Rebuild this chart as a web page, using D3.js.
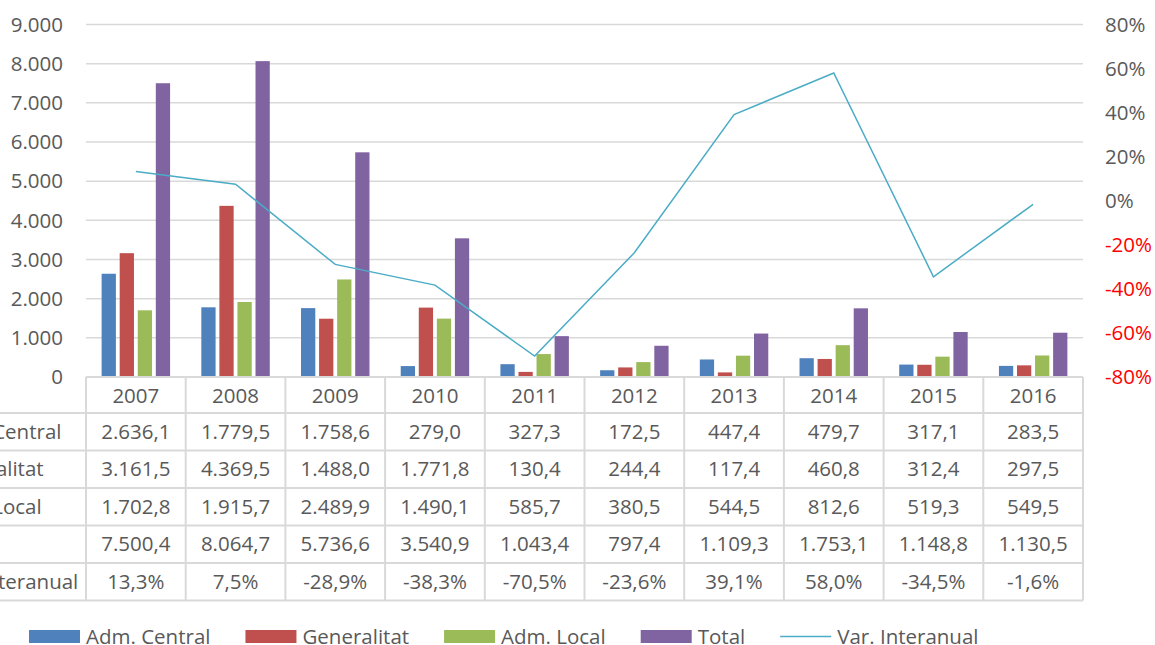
<!DOCTYPE html>
<html>

<head>
    <title>Inversión por administración</title>
    <meta charset="utf-8">
    <script src="https://cdn.jsdelivr.net/npm/d3@7/dist/d3.min.js"></script>
    <style>
        body { margin: 0; background: #fff; }
        text { font-family: "Open Sans", sans-serif; fill: #595959; }
    </style>
</head>

<body>
    <svg width="1155" height="645"></svg>
</body>
<script>
    // datos
    var years = ["2007", "2008", "2009", "2010", "2011", "2012", "2013", "2014", "2015", "2016"];
    var series = ["Adm. Central", "Generalitat", "Adm. Local", "Total"];
    var admCentral = [2636.1, 1779.5, 1758.6, 279.0, 327.3, 172.5, 447.4, 479.7, 317.1, 283.5];
    var generalitat = [3161.5, 4369.5, 1488.0, 1771.8, 130.4, 244.4, 117.4, 460.8, 312.4, 297.5];
    var admLocal = [1702.8, 1915.7, 2489.9, 1490.1, 585.7, 380.5, 544.5, 812.6, 519.3, 549.5];
    var total = [7500.4, 8064.7, 5736.6, 3540.9, 1043.4, 797.4, 1109.3, 1753.1, 1148.8, 1130.5];
    var varInteranual = [13.3, 7.5, -28.9, -38.3, -70.5, -23.6, 39.1, 58.0, -34.5, -1.6];
    var leftTicks = [0, 1000, 2000, 3000, 4000, 5000, 6000, 7000, 8000, 9000];
    var rightTicks = [-80, -60, -40, -20, 0, 20, 40, 60, 80];

    var values = [admCentral, generalitat, admLocal, total];
    var colors = ["#4f81bd", "#c0504d", "#9bbb59", "#8064a2"];
    var lineColor = "#4bacc6";
    var gridColor = "#d9d9d9";
    var fs = 20.5;

    var svg = d3.select("svg");
    var plotLeft = 86, plotRight = 1083, plotTop = 24.5, plotBottom = 377;

    var x0 = d3.scaleBand().domain(years).range([plotLeft, plotRight]);
    var x1 = d3.scaleBand().domain(series).range([0, x0.bandwidth()])
        .paddingInner(0.21).paddingOuter(0.865);
    var y = d3.scaleLinear().domain([0, 9000]).range([plotBottom, plotTop]);
    var y2 = d3.scaleLinear().domain([-80, 80]).range([plotBottom, plotTop]);

    var esLocale = d3.formatLocale({ decimal: ",", thousands: ".", grouping: [3], currency: ["", "€"], minus: "-" });
    var fmtAxis = esLocale.format(",.0f");
    var fmtVal = esLocale.format(",.1f");

    // grid
    svg.append("g").selectAll("line")
        .data(leftTicks.filter(function (d) { return d > 0; }))
        .enter().append("line")
        .attr("x1", plotLeft).attr("x2", plotRight)
        .attr("y1", function (d) { return y(d); }).attr("y2", function (d) { return y(d); })
        .attr("stroke", gridColor).attr("stroke-width", 1.5);

    // eje izquierdo
    svg.append("g").selectAll("text")
        .data(leftTicks)
        .enter().append("text")
        .attr("x", 63).attr("y", function (d) { return y(d); })
        .attr("dy", "0.35em")
        .attr("text-anchor", "end")
        .attr("font-size", fs)
        .text(function (d) { return fmtAxis(d); });

    // eje derecho
    svg.append("g").selectAll("text")
        .data(rightTicks)
        .enter().append("text")
        .attr("x", 1105).attr("y", function (d) { return y2(d); })
        .attr("dy", "0.35em")
        .attr("font-size", fs)
        .style("fill", function (d) { return d < 0 ? "#ff0000" : "#595959"; })
        .text(function (d) { return d + "%"; });

    // barras
    var groups = svg.append("g").selectAll("g")
        .data(years)
        .enter().append("g")
        .attr("transform", function (d) { return "translate(" + x0(d) + ",0)"; });

    groups.selectAll("rect")
        .data(function (d, i) { return series.map(function (s, j) { return { s: s, v: values[j][i], c: colors[j] }; }); })
        .enter().append("rect")
        .attr("x", function (d) { return x1(d.s); })
        .attr("width", x1.bandwidth())
        .attr("y", function (d) { return y(d.v); })
        .attr("height", function (d) { return y(0) - y(d.v); })
        .attr("fill", function (d) { return d.c; });

    // línea variación
    var line = d3.line()
        .x(function (d, i) { return x0(years[i]) + x0.bandwidth() / 2; })
        .y(function (d) { return y2(d); });
    svg.append("path")
        .datum(varInteranual)
        .attr("d", line)
        .attr("fill", "none")
        .attr("stroke", lineColor)
        .attr("stroke-width", 1.5);

    // tabla de datos
    var tableTop = 377, headerH = 36, rowH = 37.5;
    var rowLabels = series.concat(["Var. Interanual"]);
    var rowData = values.concat([varInteranual]);
    var tableBottom = tableTop + headerH + rowH * rowLabels.length;
    var tbl = svg.append("g");

    tbl.append("line")
        .attr("x1", plotLeft).attr("x2", plotRight)
        .attr("y1", tableTop).attr("y2", tableTop)
        .attr("stroke", gridColor).attr("stroke-width", 2);
    d3.range(rowLabels.length + 1).forEach(function (r) {
        var yy = tableTop + headerH + r * rowH;
        tbl.append("line")
            .attr("x1", 0).attr("x2", plotRight)
            .attr("y1", yy).attr("y2", yy)
            .attr("stroke", gridColor).attr("stroke-width", 2);
    });
    years.concat(["end"]).forEach(function (d, i) {
        var xx = i < years.length ? x0(d) : plotRight;
        tbl.append("line")
            .attr("x1", xx).attr("x2", xx)
            .attr("y1", tableTop).attr("y2", tableBottom)
            .attr("stroke", gridColor).attr("stroke-width", 2);
    });

    tbl.selectAll(".yr")
        .data(years)
        .enter().append("text")
        .attr("class", "yr")
        .attr("x", function (d) { return x0(d) + x0.bandwidth() / 2; })
        .attr("y", tableTop + headerH / 2 + 1)
        .attr("dy", "0.35em")
        .attr("text-anchor", "middle")
        .attr("font-size", fs)
        .text(function (d) { return d; });

    // etiquetas de fila (cortadas por el borde izquierdo como en el original)
    rowLabels.forEach(function (lab, r) {
        var cy = tableTop + headerH + r * rowH + rowH / 2;
        tbl.append("text")
            .attr("x", -63).attr("y", cy)
            .attr("dy", "0.35em")
            .attr("font-size", fs)
            .text(lab);
        tbl.selectAll(".r" + r)
            .data(rowData[r])
            .enter().append("text")
            .attr("x", function (d, i) { return x0(years[i]) + x0.bandwidth() / 2; })
            .attr("y", cy)
            .attr("dy", "0.35em")
            .attr("text-anchor", "middle")
            .attr("font-size", fs)
            .text(function (d) { return r < 4 ? fmtVal(d) : fmtVal(d) + "%"; });
    });

    // leyenda
    var legendItems = series.concat(["Var. Interanual"]);
    var lx = 29, ly = 636.5;
    var leg = svg.append("g");
    legendItems.forEach(function (lab, i) {
        if (i < 4) {
            leg.append("rect")
                .attr("x", lx).attr("y", ly - 6.5)
                .attr("width", 51).attr("height", 13)
                .attr("fill", colors[i]);
        } else {
            leg.append("line")
                .attr("x1", lx).attr("x2", lx + 51)
                .attr("y1", ly).attr("y2", ly)
                .attr("stroke", lineColor).attr("stroke-width", 1.5);
        }
        var t = leg.append("text")
            .attr("x", lx + 57).attr("y", ly)
            .attr("dy", "0.35em")
            .attr("font-size", fs)
            .text(lab);
        lx += 57 + t.node().getComputedTextLength() + 35;
    });
</script>

</html>
